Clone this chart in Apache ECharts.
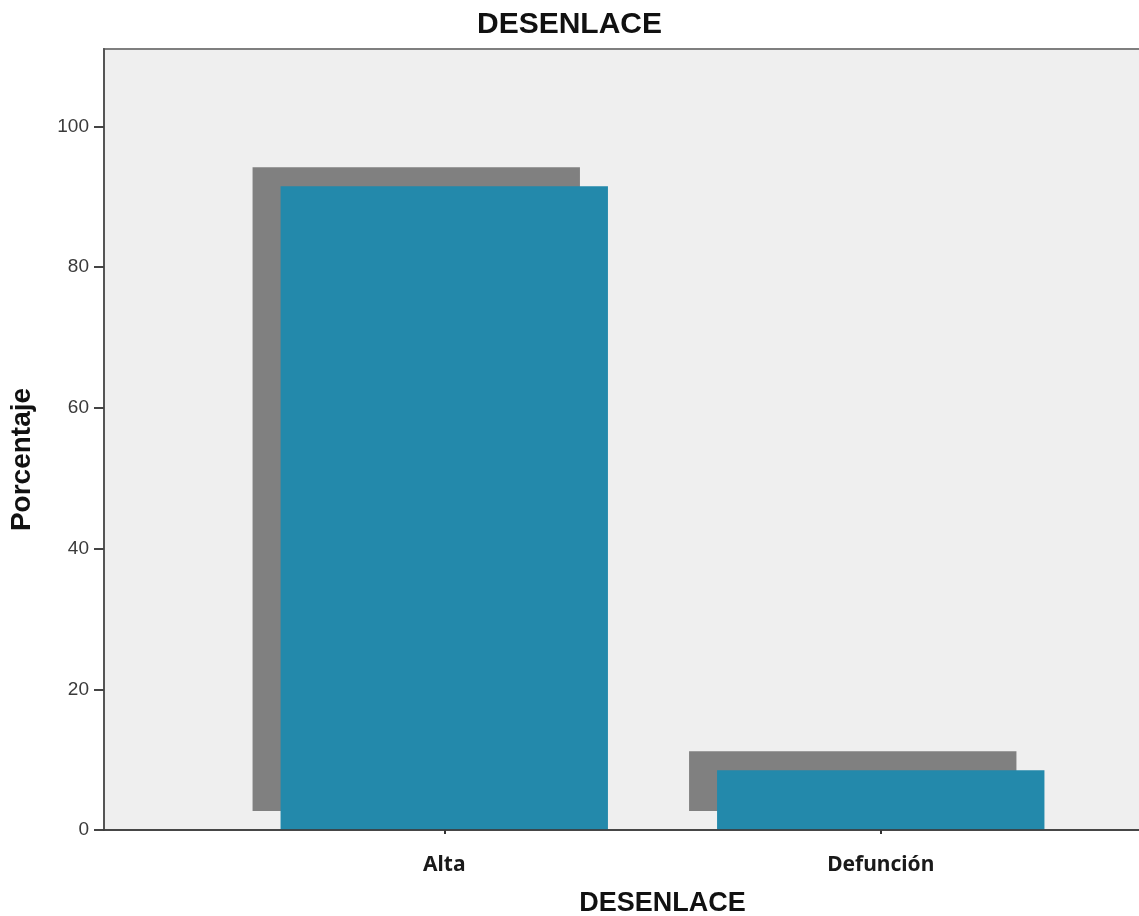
<!DOCTYPE html>
<html>
<head>
<meta charset="utf-8">
<style>
  html, body { margin: 0; padding: 0; background: #fff; }
  #chart { width: 1139px; height: 916px; }
</style>
<script src="https://cdn.jsdelivr.net/npm/echarts@6/dist/echarts.min.js"></script>
</head>
<body>
<div id="chart"></div>
<script>
// Desenlace: porcentaje de pacientes por resultado
const categories = ['Alta', 'Defunción'];
const percentages = [91.5, 8.5];
const yTicks = [0, 20, 40, 60, 80, 100];
const yMax = 111;

const chart = echarts.init(document.getElementById('chart'), null, { renderer: 'canvas' });

const plotTop = 49;
const plotBottom = 86;

chart.setOption({
  animation: false,
  backgroundColor: '#ffffff',
  title: {
    text: 'DESENLACE',
    left: 'center',
    top: 5,
    textStyle: { fontFamily: 'Liberation Sans, Arial, sans-serif', fontWeight: 'bold', fontSize: 30, color: '#111' }
  },
  grid: [
    // frame: background panel, value axis and baseline
    { left: 104, right: -2, top: plotTop, bottom: plotBottom, show: true, outerBoundsMode: 'none',
      backgroundColor: '#efefef', borderColor: '#7f7f7f', borderWidth: 2 },
    // bars
    { left: 226, right: 40, top: plotTop, bottom: plotBottom, outerBoundsMode: 'none' }
  ],
  xAxis: [
    { gridIndex: 0, type: 'value', min: 0, max: 1, z: 5,
      axisLine: { show: true, lineStyle: { color: 'rgba(60,60,60,0.85)', width: 2 } },
      axisTick: { show: false }, axisLabel: { show: false }, splitLine: { show: false } },
    { gridIndex: 1, type: 'category', data: categories, boundaryGap: true,
      axisLine: { show: false },
      axisTick: { show: true, alignWithLabel: true, length: 4, lineStyle: { color: '#333', width: 2 } },
      axisLabel: { margin: 25, fontFamily: 'Noto Sans, sans-serif', fontWeight: 'bold', fontSize: 21, color: '#1a1a1a' },
      name: 'DESENLACE', nameLocation: 'middle', nameGap: 60,
      nameTextStyle: { fontFamily: 'Liberation Sans, Arial, sans-serif', fontWeight: 'bold', fontSize: 27, color: '#111' } }
  ],
  yAxis: [
    { gridIndex: 0, type: 'value', min: 0, max: yMax,
      axisLine: { show: true, lineStyle: { color: '#555', width: 2 } },
      axisTick: { show: true, inside: false, length: 10, customValues: yTicks, lineStyle: { color: '#444', width: 2 } },
      axisLabel: { customValues: yTicks, margin: 15, fontFamily: 'Liberation Sans, Arial, sans-serif', fontSize: 19, color: '#3a3a3a' },
      splitLine: { show: false },
      name: 'Porcentaje', nameLocation: 'middle', nameRotate: 90, nameGap: 68,
      nameTextStyle: { fontFamily: 'Liberation Sans, Arial, sans-serif', fontWeight: 'bold', fontSize: 28, color: '#111', padding: [0, 40, 0, 0] } },
    { gridIndex: 1, type: 'value', min: 0, max: yMax, show: false }
  ],
  series: [
    { type: 'bar', xAxisIndex: 1, yAxisIndex: 1, data: percentages, barWidth: '75%',
      itemStyle: { color: '#2389ab', borderWidth: 0,
        shadowColor: '#808080', shadowBlur: 0, shadowOffsetX: -28, shadowOffsetY: -19 } }
  ]
});
</script>
</body>
</html>
